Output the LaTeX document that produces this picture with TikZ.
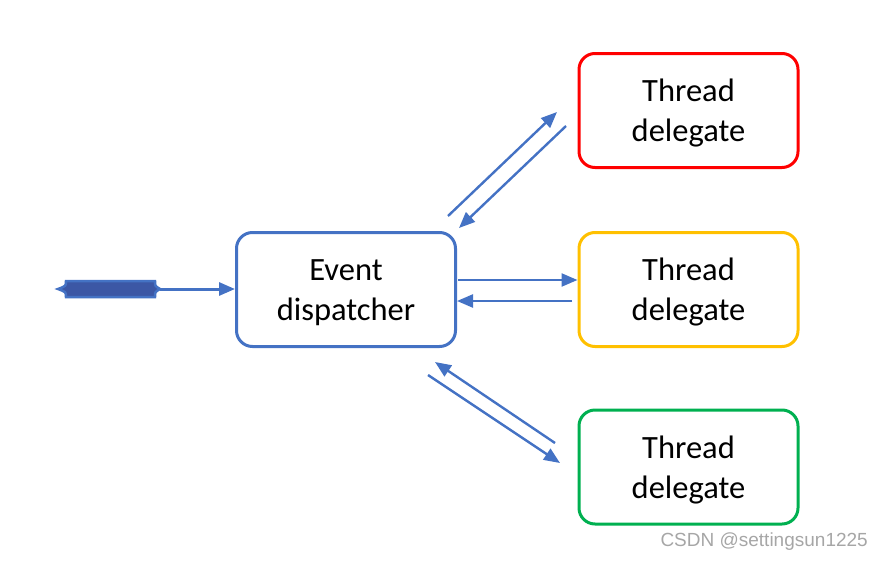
\documentclass[tikz,border=0pt]{standalone}
\usepackage{fontspec}
\setmainfont{Carlito}
\usetikzlibrary{arrows.meta}
\definecolor{accblue}{HTML}{4472C4}
\definecolor{darkbar}{HTML}{3C57A5}
\definecolor{tred}{HTML}{FF0000}
\definecolor{tyellow}{HTML}{FFC000}
\definecolor{tgreen}{HTML}{00B050}
\definecolor{wmgray}{HTML}{A6A6A6}
\tikzset{
  box/.style={draw, line width=3pt, rounded corners=16pt, minimum width=219pt, minimum height=114pt, inner sep=0pt},
  boxtext/.style={align=center, font=\fontsize{32.5}{40}\selectfont, inner sep=0pt},
  conn/.style={draw=accblue, line width=2.4pt, -{Triangle[length=16pt,width=13pt]}},
}
\begin{document}
\begin{tikzpicture}[x=1pt,y=-1pt]
\useasboundingbox (0,0) rectangle (883,562);
\node[box, draw=accblue] (ed) at (346,289.5) {};
\node[box, draw=tred] (t1) at (688.5,110.5) {};
\node[box, draw=tyellow] (t2) at (688.5,289.5) {};
\node[box, draw=tgreen] (t3) at (688.5,467) {};
\node[boxtext] (edt) at ([yshift=-3pt]ed.center) {Event\\dispatcher};
\node[boxtext] (t1t) at ([yshift=-3pt]t1.center) {Thread\\delegate};
\node[boxtext] (t2t) at ([yshift=-3pt]t2.center) {Thread\\delegate};
\node[boxtext] (t3t) at ([yshift=-3pt]t3.center) {Thread\\delegate};
% input bar
\draw[fill=darkbar, draw=accblue, line width=2.5pt]
  (66,281) -- (155,281) .. controls (155,286) .. (160,289) .. controls (155,292) .. (155,297)
  -- (66,297) .. controls (66,292) .. (58,289) .. controls (66,286) .. (66,281) -- cycle;
\coordinate (barend) at (160,289);
\draw[conn, line width=3pt] (barend) -- (ed.west |- barend);
% top pair
\coordinate (a1s) at (448,216); \coordinate (a1e) at (557,112);
\coordinate (a2s) at (566,126); \coordinate (a2e) at (459,228);
\draw[conn] (a1s) -- (a1e);
\draw[conn] (a2s) -- (a2e);
% middle pair
\coordinate (b1s) at (458,280); \coordinate (b2s) at (572,301);
\draw[conn] (b1s) -- (t2.west |- b1s);
\draw[conn] (b2s) -- (ed.east |- b2s);
% bottom pair
\coordinate (c1s) at (555,443); \coordinate (c1e) at (435,362);
\coordinate (c2s) at (428,375); \coordinate (c2e) at (560,463);
\draw[conn] (c1s) -- (c1e);
\draw[conn] (c2s) -- (c2e);
% watermark
\node[text=wmgray, font=\fontspec{Liberation Sans}\fontsize{19}{22}\selectfont, anchor=east, inner sep=0pt] (wm) at (868,542) {CSDN @settingsun1225};
\end{tikzpicture}
\end{document}
